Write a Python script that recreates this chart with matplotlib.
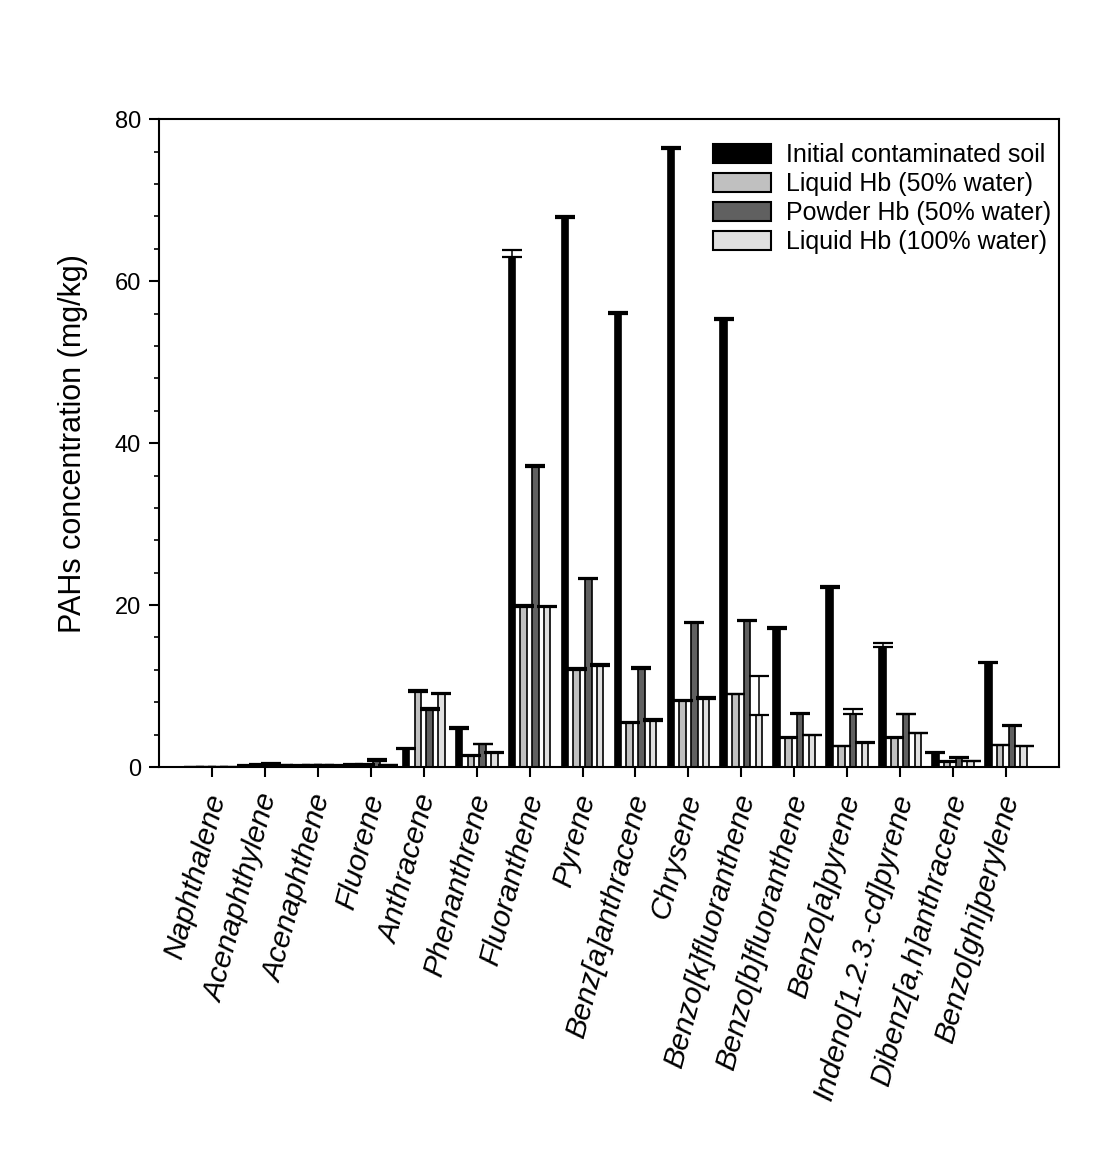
import numpy as np
import matplotlib
matplotlib.use("Agg")
import matplotlib.pyplot as plt
from matplotlib.patches import Patch

plt.rcParams["font.family"] = ["Liberation Sans", "DejaVu Sans"]

# Compostos (HAPs)
compounds = [
    "Naphthalene", "Acenaphthylene", "Acenaphthene", "Fluorene", "Anthracene",
    "Phenanthrene", "Fluoranthene", "Pyrene", "Benz[a]anthracene", "Chrysene",
    "Benzo[k]fluoranthene", "Benzo[b]fluoranthene", "Benzo[a]pyrene",
    "Indeno[1.2.3.-cd]pyrene", "Dibenz[a,h]anthracene", "Benzo[ghi]perylene",
]

# Concentracoes medias (mg/kg) e erro (so para cima)
initial = [0.0, 0.1, 0.1, 0.2, 2.2, 4.7, 63.0, 67.8, 55.9, 76.3, 55.2, 17.1, 22.1, 14.8, 1.7, 12.9]
initial_err = [0.0, 0.2, 0.15, 0.15, 0.1, 0.25, 0.8, 0.2, 0.3, 0.3, 0.3, 0.2, 0.2, 0.5, 0.1, 0.05]

liquid50 = [0.0, 0.3, 0.2, 0.3, 9.3, 1.35, 19.8, 12.0, 5.4, 8.2, 9.0, 3.6, 2.55, 3.6, 0.6, 2.7]
liquid50_err = [0.0, 0.1, 0.1, 0.05, 0.15, 0.15, 0.15, 0.2, 0.1, 0.05, 0.05, 0.1, 0.05, 0.1, 0.1, 0.05]

powder50 = [0.0, 0.3, 0.2, 0.7, 7.1, 2.8, 37.1, 23.2, 12.1, 17.8, 18.0, 6.6, 6.5, 6.5, 1.1, 5.1]
powder50_err = [0.0, 0.15, 0.1, 0.25, 0.2, 0.1, 0.15, 0.15, 0.2, 0.1, 0.1, 0.1, 0.7, 0.05, 0.1, 0.1]

liquid100 = [0.0, 0.2, 0.1, 0.2, 9.0, 1.7, 19.8, 12.5, 5.7, 8.4, 6.4, 3.9, 3.0, 4.2, 0.7, 2.55]
liquid100_err = [0.0, 0.1, 0.1, 0.05, 0.15, 0.1, 0.1, 0.2, 0.2, 0.2, 4.9, 0.1, 0.1, 0.05, 0.1, 0.05]

series = [
    ("Initial contaminated soil", initial, initial_err, "#000000"),
    ("Liquid Hb (50% water)", liquid50, liquid50_err, "#c0c0c0"),
    ("Powder Hb (50% water)", powder50, powder50_err, "#606060"),
    ("Liquid Hb (100% water)", liquid100, liquid100_err, "#e0e0e0"),
]

fig = plt.figure(figsize=(11.02, 11.58), dpi=100)
ax = fig.add_axes([159 / 1102, 1 - 767 / 1158, 900 / 1102, (767 - 119.3) / 1158])

x = np.arange(len(compounds))
step = 0.222
width = 0.123

handles = []
for i, (name, vals, errs, color) in enumerate(series):
    pos = x + (i - 1.5) * step
    ax.bar(pos, vals, width=width, color=color, edgecolor="black", linewidth=1.2, zorder=2)
    ax.errorbar(pos, vals, yerr=[np.zeros(len(vals)), errs], fmt="none",
                ecolor="black", elinewidth=1.1, capsize=7.5, capthick=1.6, zorder=3)
    handles.append(Patch(facecolor=color, edgecolor="black", linewidth=1.5, label=name))

ax.set_xlim(-1, 16)
ax.set_ylim(0, 80)
ax.set_yticks([0, 20, 40, 60, 80])
ax.set_yticks(np.arange(0, 81, 4), minor=True)
ax.set_xticks(x)
ax.set_xticklabels([])
# rotulos inclinados, um pouco a direita do tique
for xi, name in zip(x, compounds):
    ax.annotate(name, xy=(xi, 0), xycoords=("data", "axes fraction"),
                xytext=(3.6, -20), textcoords="offset points",
                rotation=75, ha="right", va="center", rotation_mode="anchor",
                fontsize=21.5, style="italic", annotation_clip=False)
ax.tick_params(axis="x", length=7, width=1.5)
ax.tick_params(axis="y", which="major", length=7, width=1.5, labelsize=17, pad=6)
ax.tick_params(axis="y", which="minor", length=3.5, width=1.2)
ax.tick_params(axis="x", which="minor", bottom=False)
for s in ax.spines.values():
    s.set_linewidth(1.5)

ax.set_ylabel("PAHs concentration (mg/kg)", fontsize=22, labelpad=19)

fig.legend(handles=handles, loc="upper left", bbox_to_anchor=(713 / 1102, 1 - 143 / 1158),
           frameon=False, fontsize=18, handlelength=2.32, handleheight=0.8,
           handletextpad=0.62, labelspacing=0.2, borderpad=0, borderaxespad=0)

fig.savefig("out.png", dpi=100)
